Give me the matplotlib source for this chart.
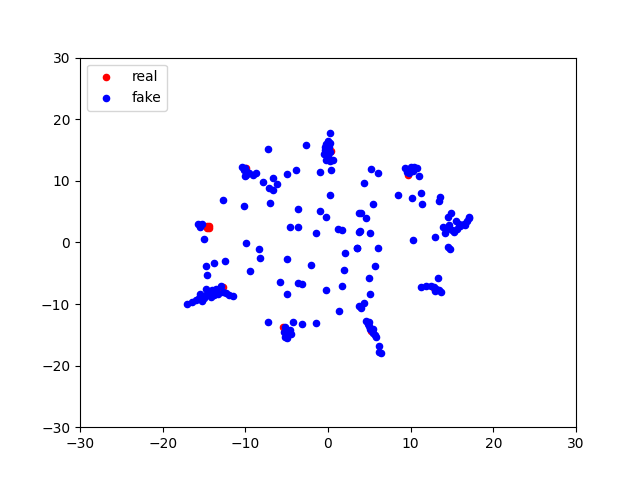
import matplotlib
matplotlib.use('Agg')
import matplotlib.pyplot as plt

# real (red) points
real_x = [-14.6, -14.4, -14.6, -14.4, -12.7, -12.9, -5.4, 9.7, 12.8, 5.2, 0.4, -9.9]
real_y = [2.7, 2.7, 2.3, 2.3, -7.3, -7.5, -13.8, 11.0, -7.4, -14.4, 14.8, 12.0]

# fake (blue) points
fake_x = [
    # left cluster top
    -15.7, -15.5, -15.3, -15.0,
    -12.7, -10.2, -9.9, -14.8, -13.8, -12.5, -14.6, -9.4, -8.3, -8.2,
    # bottom left streak
    -17.0, -16.5, -16.0, -15.6, -15.3, -15.0, -14.7, -14.5, -14.2, -14.0,
    -13.8, -13.5, -13.3, -13.0, -12.7, -12.3, -12.0, -11.5, -15.5, -14.8,
    # upper middle
    -7.2, -2.7, 0.2, 0.0, -0.3, 0.1, -0.4, 0.2, -0.5, 0.0, -0.2, 0.3, 0.6, -0.4, 0.3,
    -10.4, -10.2, -10.0, -9.8, -9.5, -9.1, -8.7, -9.9, -10.1,
    -7.9, -6.6, -6.2, -7.1, -6.6, -5.0, -3.9, -1.0, 0.4, 0.2,
    -7.0, -3.6, -1.0, -0.2, 3.8, -4.6, -3.6, -1.5, 1.2, 1.7, 3.8,
    # lower middle
    -4.9, -2.0, 2.1, 3.5, 1.9, -5.8, -3.6, -3.2, -5.0, -0.2, 1.7,
    1.3, 3.8, -7.2, -4.2, -3.2, -1.5,
    -5.2, -5.0, -5.3, -4.8, -4.5, -5.2, -4.9, -4.6,
    # right upper
    5.2, 6.0, 4.4, 9.3, 9.6, 10.0, 10.4, 10.8, 9.8, 10.3, 11.0,
    8.5, 10.2, 11.3, 11.4, 5.4, 4.0, 4.6, 3.9, 5.1, 13.5, 13.4, 10.3, 13.0,
    13.9, 14.3, 14.6, 14.5, 14.9, 15.0, 15.3, 15.5, 15.8, 16.0, 16.4, 16.8,
    17.0, 17.1, 16.6, 14.8, 14.2, 15.6,
    3.5, 6.0, 14.5,
    # right lower
    5.7, 5.0, 5.1, 4.3, 4.0, 13.3,
    11.3, 11.9, 12.4, 12.8, 13.1, 13.4, 13.7, 13.0,
    4.6, 4.8, 5.0, 5.1, 5.3, 5.5, 5.7, 5.8, 5.0, 5.4,
    6.2, 6.2, 6.4,
]
fake_y = [
    3.0, 2.5, 3.0, 0.5,
    6.9, 5.9, -0.1, -3.8, -3.4, -3.0, -5.3, -4.6, -1.1, -2.6,
    -10.0, -9.6, -9.3, -9.0, -9.5, -9.0, -8.6, -8.0, -8.8, -7.8,
    -8.5, -7.5, -8.3, -7.0, -8.0, -8.2, -8.5, -8.7, -8.3, -7.5,
    15.2, 15.8, 17.8, 16.5, 16.0, 15.5, 15.0, 14.7, 14.3, 14.0, 13.3, 13.2, 13.3, 15.5, 16.2,
    12.2, 11.8, 12.0, 11.5, 11.3, 11.0, 11.2, 11.0, 10.8,
    9.8, 10.4, 9.5, 8.8, 8.5, 11.1, 11.7, 11.4, 11.7, 7.7,
    6.4, 5.4, 5.1, 4.1, 4.7, 2.5, 2.5, 1.5, 2.1, 2.0, 1.7,
    -2.7, -3.7, -1.8, -0.9, -4.5, -6.5, -6.6, -6.8, -8.3, -7.8, -7.1,
    -11.1, -10.4, -12.9, -12.9, -13.3, -13.1,
    -13.8, -14.2, -14.6, -14.8, -14.8, -15.3, -15.6, -14.2,
    11.9, 11.2, 9.6, 12.0, 11.5, 12.2, 12.3, 12.0, 11.2, 11.6, 10.7,
    7.7, 7.2, 8.0, 6.2, 6.2, 4.8, 3.9, 1.8, 1.5, 7.4, 6.8, 0.4, 0.8,
    2.5, 2.0, 2.8, 4.2, 4.8, 2.0, 1.7, 3.5, 3.0, 2.6, 3.0, 3.5,
    4.0, 4.2, 2.8, -1.0, 1.6, 2.2,
    -0.9, -0.9, -0.8,
    -3.8, -5.7, -8.3, -9.8, -10.6, -5.8,
    -7.3, -7.0, -7.1, -7.3, -7.6, -7.8, -8.0, -7.9,
    -12.7, -13.2, -13.6, -14.0, -14.3, -14.7, -15.0, -15.3, -13.0, -14.0,
    -16.8, -17.8, -17.9,
]

plt.figure(figsize=(6.4, 4.8))
plt.scatter(real_x, real_y, c='red', s=20, label='real')
plt.scatter(fake_x, fake_y, c='blue', s=20, label='fake')
plt.xlim(-30, 30)
plt.ylim(-30, 30)
plt.legend(loc='upper left')
plt.savefig('out.png', dpi=100)
